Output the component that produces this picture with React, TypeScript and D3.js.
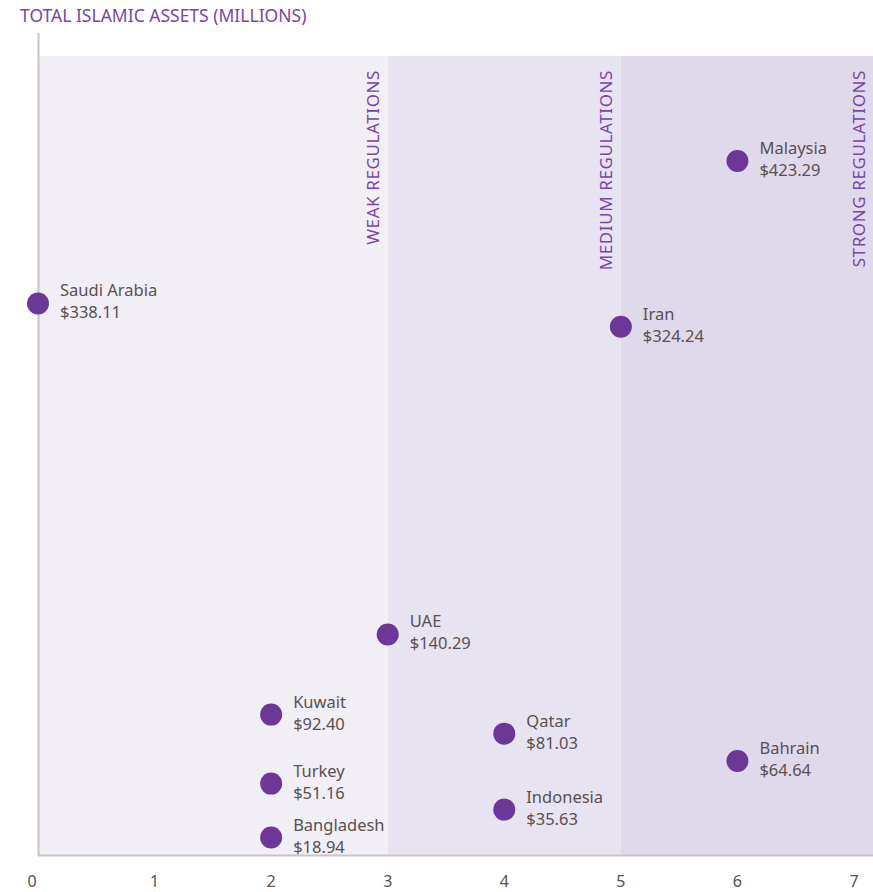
import React from "react";
import * as d3 from "d3";

const countries = ["Saudi Arabia", "Malaysia", "Iran", "UAE", "Kuwait", "Qatar", "Bahrain", "Turkey", "Indonesia", "Bangladesh"];
const regulation = [0, 6, 5, 3, 2, 4, 6, 2, 4, 2];
const assets = [338.11, 423.29, 324.24, 140.29, 92.4, 81.03, 64.64, 51.16, 35.63, 18.94];
const xTicks = [0, 1, 2, 3, 4, 5, 6, 7];
const bandNames = ["WEAK REGULATIONS", "MEDIUM REGULATIONS", "STRONG REGULATIONS"];
const bandStarts = [0, 3, 5];
const bandEnds = [3, 5, 7.25];

const W = 873;
const H = 892;
const FONT = "'Noto Sans', 'Open Sans', sans-serif";

export default function App() {
  const x = d3.scaleLinear().domain([0, 7]).range([38, 854]);
  const y = d3.scaleLinear().domain([8.5, 486]).range([855, 56]);
  const bandColors = ["#f1eef6", "#e8e3f0", "#e0d9eb"];
  const axisColor = "#cbc3c3";
  const purple = "#6c3797";
  const textColor = "#5a5050";

  return (
    <svg width={W} height={H} style={{ position: "absolute", left: 0, top: 0, background: "#fff" }} fontFamily={FONT}>
      {bandNames.map((b, i) => (
        <rect key={b} x={x(bandStarts[i])} y={y(486)} width={Math.min(x(bandEnds[i]), W) - x(bandStarts[i])} height={y(8.5) - y(486)} fill={bandColors[i]} />
      ))}
      {bandNames.map((b, i) => {
        const tx = i === 2 ? W - 8 : x(bandEnds[i]) - 9;
        return (
          <text key={b + "t"} transform={`translate(${tx},${70}) rotate(-90)`} textAnchor="end" fontSize={17} fill="#7a45a8" style={{ letterSpacing: "0.6px" }}>
            {b}
          </text>
        );
      })}
      <line x1={38.5} x2={38.5} y1={33} y2={855.5} stroke={axisColor} strokeWidth={2} />
      <line x1={38} x2={W} y1={855.5} y2={855.5} stroke={axisColor} strokeWidth={2} />
      <text x={20} y={22} fontSize={17.5} fill="#7a45a8">TOTAL ISLAMIC ASSETS (MILLIONS)</text>
      {xTicks.map((t) => (
        <text key={t} x={t === 0 ? x(t) - 6 : x(t)} y={887} textAnchor="middle" fontSize={16} fill={textColor}>
          {t}
        </text>
      ))}
      {countries.map((c, i) => {
        const cx = x(regulation[i]);
        const cy = y(assets[i]);
        return (
          <g key={c}>
            <circle cx={cx} cy={cy} r={11} fill={purple} />
            <text x={cx + 22} y={cy - 7} fontSize={16.5} fill={textColor}>{c}</text>
            <text x={cx + 22} y={cy + 15} fontSize={16.5} fill={textColor}>{"$" + d3.format(".2f")(assets[i])}</text>
          </g>
        );
      })}
    </svg>
  );
}
